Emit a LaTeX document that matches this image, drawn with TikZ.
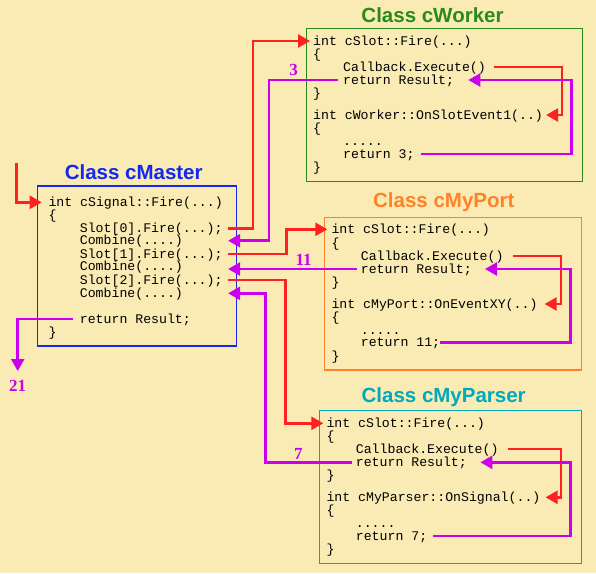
\documentclass[tikz,border=0pt]{standalone}
\usepackage{fontspec}
\usetikzlibrary{arrows.meta}
\newfontfamily\codefont{Liberation Mono}
\newfontfamily\titlefont{Liberation Sans}
\newfontfamily\valfont{Liberation Serif}
\definecolor{bgyellow}{RGB}{250,235,180}
\definecolor{callred}{RGB}{255,32,32}
\definecolor{retmag}{RGB}{204,0,238}
\definecolor{workgreen}{RGB}{40,140,25}
\definecolor{masterblue}{RGB}{20,40,240}
\definecolor{portorange}{RGB}{255,130,40}
\definecolor{parserteal}{RGB}{0,170,190}
\begin{document}
\begin{tikzpicture}[x=1pt, y=-1pt,
codeline/.style={font=\codefont\fontsize{13.2pt}{13pt}\selectfont, inner sep=0pt, anchor=west, text height=10pt, text depth=2pt},
slotline/.style={codeline, text width=148pt, align=left},
classbox/.style={rectangle, draw=#1, line width=1.2pt, inner sep=0pt},
classtitle/.style={font=\titlefont\bfseries\fontsize{20.5pt}{22pt}\selectfont, text=#1, inner sep=0pt},
callarrow/.style={draw=callred, line width=2.5pt, -{Triangle[length=12pt, width=13pt]}},
retarrow/.style={draw=retmag, line width=2.5pt, -{Triangle[length=12pt, width=13pt]}},
retval/.style={font=\valfont\bfseries\fontsize{17pt}{18pt}\selectfont, text=retmag, inner sep=1pt},
]
\useasboundingbox (0,0) rectangle (596,573);
\fill[bgyellow] (0,0) rectangle (596,573);

%Boxes
\node[classbox=workgreen, minimum width=276pt, minimum height=153.4pt]  (worker) at (444.7,105) {};
\node[classbox=masterblue, minimum width=198.6pt, minimum height=160pt] (master) at (137,266) {};
\node[classbox=portorange, minimum width=257.4pt, minimum height=152.7pt] (port) at (453,293.7) {};
\node[classbox=parserteal, minimum width=262.4pt, minimum height=152.6pt] (parser) at (450.5,487) {};
\node[classtitle=workgreen]  (workertitle) at (432.5,15)  {Class cWorker};
\node[classtitle=masterblue] (mastertitle) at (133.7,171.7) {Class cMaster};
\node[classtitle=portorange] (porttitle)   at (443.8,201.7) {Class cMyPort};
\node[classtitle=parserteal] (parsertitle) at (443.7,396.7) {Class cMyParser};

%Nodes cWorker
\node[codeline] (wfire)  at (313,41)  {int cSlot::Fire(...)};
\node[codeline] (wob1)   at (313,54)  {\{};
\node[codeline] (wcall)  at (343,67)  {Callback.Execute()};
\node[codeline] (wret)   at (343,80)  {return Result;};
\node[codeline] (wcb1)   at (313,93)  {\}};
\node[codeline] (wevent) at (313,115) {int cWorker::OnSlotEvent1(..)};
\node[codeline] (wob2)   at (313,128) {\{};
\node[codeline] (wdots)  at (343,141) {.....};
\node[codeline] (wret3)  at (343,154) {return 3;};
\node[codeline] (wcb2)   at (313,167) {\}};

%Nodes cMaster
\node[codeline] (mfire)  at (48.3,202.3) {int cSignal::Fire(...)};
\node[codeline] (mob)    at (48.3,215.7) {\{};
\node[slotline] (mslot0) at (79.7,228.3) {Slot[0].Fire(...);};
\node[slotline] (mcomb1) at (79.7,240.7) {Combine(....)};
\node[slotline] (mslot1) at (79.7,254)   {Slot[1].Fire(...);};
\node[slotline] (mcomb2) at (79.7,266.7) {Combine(....)};
\node[slotline] (mslot2) at (79.7,280)   {Slot[2].Fire(...);};
\node[slotline] (mcomb3) at (79.7,293.3) {Combine(....)};
\node[codeline] (mret)   at (79.7,319)   {return Result;};
\node[codeline] (mcb)    at (48.3,332.3) {\}};
\coordinate (in)  at (16.7,162.7);
\coordinate (out) at (17.7,371);

%Nodes cMyPort
\node[codeline] (pfire)  at (331.3,229.3) {int cSlot::Fire(...)};
\node[codeline] (pob1)   at (331.3,243.3) {\{};
\node[codeline] (pcall)  at (360.7,256)   {Callback.Execute()};
\node[codeline] (pret)   at (360.7,269)   {return Result;};
\node[codeline] (pcb1)   at (331.3,282.3) {\}};
\node[codeline] (pevent) at (331.3,304)   {int cMyPort::OnEventXY(..)};
\node[codeline] (pob2)   at (331.3,317.7) {\{};
\node[codeline] (pdots)  at (360.7,330.3) {.....};
\node[codeline] (pret11) at (360.7,342.7) {return 11;};
\node[codeline] (pcb2)   at (331.3,356.7) {\}};

%Nodes cMyParser
\node[codeline] (sfire)  at (326.3,423.3) {int cSlot::Fire(...)};
\node[codeline] (sob1)   at (326.3,436.7) {\{};
\node[codeline] (scall)  at (355.7,449)   {Callback.Execute()};
\node[codeline] (sret)   at (355.7,462.3) {return Result;};
\node[codeline] (scb1)   at (326.3,475.7) {\}};
\node[codeline] (sevent) at (326.3,497.3) {int cMyParser::OnSignal(..)};
\node[codeline] (sob2)   at (326.3,510)   {\{};
\node[codeline] (sdots)  at (355.7,523)   {.....};
\node[codeline] (sret7)  at (355.7,536)   {return 7;};
\node[codeline] (scb2)   at (326.3,549.3) {\}};

%Lines calls
\draw[callarrow, shorten >=6.6pt] (in) |- (mfire.west);
\draw[callarrow, shorten >=3pt] (mslot0.east) -- ++(25,0) |- (wfire.west);
\draw[callarrow, shorten >=4pt] (mslot1.east) -- ++(58.3,0) |- (pfire.west);
\draw[callarrow, shorten >=3pt] (mslot2.east) -- ++(57.3,0) |- (sfire.west);
\draw[callarrow, shorten <=8pt, shorten >=3pt] (wcall.east) -- ++(76,0) |- (wevent.east);
\draw[callarrow, shorten <=9pt, shorten >=7pt] (pcall.east) -- ++(57.4,0) |- (pevent.east);
\draw[callarrow, shorten <=9pt, shorten >=5pt] (scall.east) -- ++(62.4,0) |- (sevent.east);

%Lines returns
\draw[retarrow, shorten <=6pt, shorten >=14pt] (wret3.east) -- ++(156.7,0) |- (wret.east);
\draw[retarrow, shorten >=13pt] (pret11.east) -- ++(130,0) |- (pret.east);
\draw[retarrow, shorten <=5.7pt, shorten >=13.4pt] (sret7.east) -- ++(143,0) |- (sret.east);
\draw[retarrow, shorten <=5pt] (wret.west) -- node[retval, pos=0.666, above=2pt] {3} ++(-74,0) |- (mcomb1.east);
\draw[retarrow, shorten <=4pt] (pret.west) -- node[retval, pos=0.43, above=1pt] {11} (mcomb2.east |- pret.west);
\draw[retarrow, shorten <=4pt] (sret.west) -- node[retval, pos=0.638, above=1pt] {7} ++(-90,0) |- (mcomb3.east);
\draw[retarrow, shorten <=6.4pt] (mret.west) -| (out) node[retval, below=7pt] {21};
\end{tikzpicture}
\end{document}
